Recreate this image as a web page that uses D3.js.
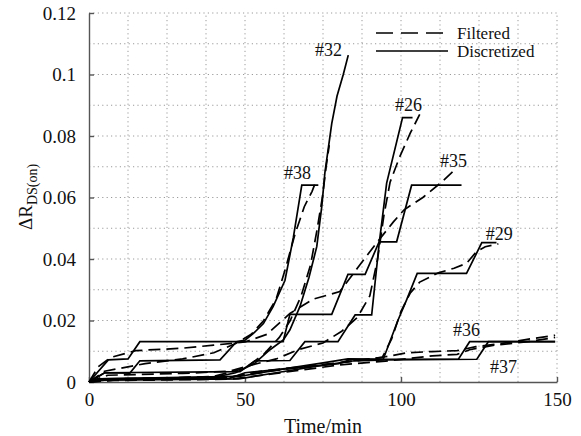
<!DOCTYPE html>
<html>
<head>
<meta charset="utf-8">
<script src="https://cdn.jsdelivr.net/npm/d3@7"></script>
<style>
  body { margin: 0; background: #fff; }
  svg { display: block; }
  svg text { font-family: "Liberation Serif", "DejaVu Serif", "Times New Roman", Times, serif !important; fill: #111; }
</style>
</head>
<body>
<svg id="chart"></svg>
<script>
// values: [time (min), delta R_DS(on)]
var disc26 = [[0,0],[5,0.003],[48.4,0.0034],[53.2,0.0069],[64.4,0.007],[69.2,0.0131],[79.8,0.0131],[85.3,0.0218],[90.6,0.0218],[93,0.045],[95.4,0.0647],[100.5,0.086],[103.7,0.086]];
var filt26 = [[0,0],[6,0.0022],[30,0.0028],[45,0.0035],[52,0.0055],[60,0.0075],[67,0.0105],[75,0.0127],[81,0.0165],[86,0.021],[90,0.028],[92.5,0.04],[94.5,0.054],[96.5,0.065],[99.5,0.073],[103,0.081],[106,0.087]];

var disc29 = [[0,0],[3,0.0008],[45,0.0012],[50,0.003],[62,0.0042],[80,0.006],[84,0.0074],[94.3,0.0074],[99,0.02],[101.8,0.0267],[105.2,0.0353],[121,0.0353],[125.9,0.0453],[130.6,0.0453]];
var filt29 = [[0,0],[8,0.0008],[45,0.0015],[55,0.0035],[70,0.0052],[85,0.0068],[94,0.008],[97,0.014],[100,0.023],[103,0.029],[106,0.0325],[112,0.0355],[117,0.037],[121,0.0386],[124.2,0.0424],[127,0.044],[131.2,0.0449]];

var disc32 = [[0,0],[4,0.001],[40,0.0015],[47,0.003],[53,0.006],[58,0.0105],[62.3,0.0137],[64.4,0.017],[67.6,0.0245],[70.5,0.034],[73,0.044],[74.6,0.057],[75.6,0.068],[77.8,0.084],[79.5,0.093],[81.5,0.1],[83.1,0.1063]];
var filt32 = [[0,0],[10,0.0008],[40,0.0018],[50,0.0045],[56,0.009],[61,0.0145],[64.5,0.02],[68,0.028],[71,0.038],[73,0.049],[74.8,0.06],[76,0.07],[77,0.077]];

var disc35 = [[0,0],[6.2,0.0072],[12.5,0.0075],[16.3,0.0131],[62.2,0.0131],[64.4,0.022],[77.8,0.022],[83,0.035],[88.5,0.035],[93,0.0456],[98.6,0.0456],[103.4,0.064],[119.4,0.064]];
var filt35 = [[0,0],[3,0.005],[7,0.008],[15,0.0102],[30,0.011],[40,0.012],[50,0.013],[57,0.0155],[64.4,0.0223],[72,0.027],[80.4,0.0294],[86,0.037],[92,0.045],[97.5,0.052],[101,0.056],[107,0.06],[113,0.065],[117.8,0.0696]];

var disc36 = [[0,0],[3,0.001],[48,0.0018],[62,0.0042],[75,0.0062],[83,0.0075],[94,0.0074],[118.4,0.0074],[122,0.0131],[149.4,0.0131]];
var filt36 = [[0,0],[6,0.001],[45,0.0016],[60,0.0038],[80,0.0062],[95,0.0082],[102,0.0095],[110,0.0099],[118,0.0102],[124,0.0115],[132,0.0125],[140,0.0138],[149.4,0.0152]];

var disc37 = [[0,0],[5,0.0006],[48,0.001],[60,0.003],[72,0.005],[85,0.0069],[95,0.0072],[124.3,0.0074],[128,0.0131],[149.4,0.0131]];
var filt37 = [[0,0],[8,0.0005],[45,0.0009],[60,0.0028],[80,0.0055],[95,0.0068],[110,0.0085],[118,0.009],[122,0.0105],[130,0.012],[140,0.013],[149.4,0.0145]];

var disc38 = [[0,0],[5,0.003],[13.1,0.0029],[16.3,0.0069],[42,0.0072],[47.3,0.0131],[50,0.0136],[52.7,0.0158],[55.9,0.019],[59,0.0245],[62.8,0.033],[65.5,0.047],[68.2,0.064],[73.5,0.064]];
var filt38 = [[0,0],[5,0.0035],[18,0.006],[30,0.0075],[40,0.0095],[47,0.0125],[52,0.0155],[56,0.02],[60,0.027],[63,0.037],[66,0.048],[69,0.057],[71.5,0.062],[73,0.066]];

var seriesNames = ["#26", "#29", "#32", "#35", "#36", "#37", "#38"];
var discretized = [disc26, disc29, disc32, disc35, disc36, disc37, disc38];
var filtered = [filt26, filt29, filt32, filt35, filt36, filt37, filt38];

var xTicks = [0, 50, 100, 150];
var yTicks = [0, 0.02, 0.04, 0.06, 0.08, 0.1, 0.12];
var yTickLabels = ["0", "0.02", "0.04", "0.06", "0.08", "0.1", "0.12"];
var legendLabels = ["Filtered", "Discretized"];

// where each series tag sits, in data units (layout only)
var tagAnchors = [[98.1,0.0881],[127.2,0.0462],[72.4,0.106],[112.5,0.0699],[116.7,0.015],[128.5,0.0029],[62.5,0.066]];

var W = 581, H = 436,
    margin = {left: 89, right: 24, top: 13, bottom: 54};

var serif = "'Liberation Serif', 'DejaVu Serif', serif";

var svg = d3.select("#chart").attr("width", W).attr("height", H);

var x = d3.scaleLinear().domain([0, 150]).range([margin.left, W - margin.right]);
var y = d3.scaleLinear().domain([0, 0.12]).range([H - margin.bottom, margin.top]);

/*
 *    G R I D
 */
var grid = svg.append("g").attr("class", "grid")
    .attr("stroke", "#9a9a9a")
    .attr("stroke-width", 1)
    .attr("stroke-dasharray", "1.2,3.2");

grid.selectAll(".vg")
  .data(d3.range(12.5, 150.1, 12.5))
  .enter().append("line")
    .attr("x1", function(d) { return x(d); })
    .attr("x2", function(d) { return x(d); })
    .attr("y1", y(0))
    .attr("y2", y(0.12));

grid.selectAll(".hg")
  .data(d3.range(0.01, 0.1201, 0.01))
  .enter().append("line")
    .attr("x1", x(0))
    .attr("x2", x(150))
    .attr("y1", function(d) { return y(d); })
    .attr("y2", function(d) { return y(d); });

/*
 *    A X E S
 */
var xAxis = d3.axisBottom(x)
    .tickValues(xTicks)
    .tickSizeInner(-5)
    .tickSizeOuter(0)
    .tickPadding(11)
    .tickFormat(d3.format("d"));

var yAxis = d3.axisLeft(y)
    .tickValues(yTicks)
    .tickSizeInner(-5)
    .tickSizeOuter(0)
    .tickPadding(13)
    .tickFormat(function(d, i) { return yTickLabels[i]; });

var gx = svg.append("g")
    .attr("transform", "translate(0," + y(0) + ")")
    .call(xAxis);

var gy = svg.append("g")
    .attr("transform", "translate(" + x(0) + ",0)")
    .call(yAxis);

[gx, gy].forEach(function(g) {
  g.attr("font-family", serif);
  g.select(".domain").attr("stroke", "#555").attr("stroke-width", 1.4);
  g.selectAll(".tick line").attr("stroke", "#555").attr("stroke-width", 1.4);
  g.selectAll(".tick text")
    .attr("font-family", serif)
    .attr("font-size", 19)
    .attr("fill", "#111");
});

// axis titles
svg.append("text")
    .attr("x", x(75))
    .attr("y", 433)
    .attr("text-anchor", "middle")
    .attr("font-family", serif)
    .style("font-size", "20px")
    .text("Time/min");

var ylab = svg.append("text")
    .attr("transform", "translate(32,230) rotate(-90)")
    .attr("font-family", serif)
    .style("font-size", "19px");
ylab.append("tspan").text("ΔR");
ylab.append("tspan")
    .attr("dy", 5)
    .style("font-size", "14px")
    .text("DS(on)");

/*
 *    L I N E S
 */
var line = d3.line()
    .x(function(d) { return x(d[0]); })
    .y(function(d) { return y(d[1]); });

var plot = svg.append("g").attr("fill", "none").attr("stroke", "#000");

plot.selectAll(".filtered")
  .data(filtered)
  .enter().append("path")
    .attr("class", "filtered")
    .attr("d", line)
    .attr("stroke-width", 1.7)
    .attr("stroke-dasharray", "12,6");

plot.selectAll(".discretized")
  .data(discretized)
  .enter().append("path")
    .attr("class", "discretized")
    .attr("d", line)
    .attr("stroke-width", 1.7);

// series tags
svg.selectAll(".tag")
  .data(seriesNames)
  .enter().append("text")
    .attr("class", "tag")
    .attr("x", function(d, i) { return x(tagAnchors[i][0]); })
    .attr("y", function(d, i) { return y(tagAnchors[i][1]); })
    .attr("font-family", serif)
    .style("font-size", "18px")
    .text(function(d) { return d; });

/*
 *    L E G E N D
 */
var legend = svg.append("g").attr("transform", "translate(376,33)");

legend.selectAll(".lg")
  .data(legendLabels)
  .enter().append("g")
    .attr("transform", function(d, i) { return "translate(0," + (i * 18) + ")"; })
    .each(function(d, i) {
      var g = d3.select(this);
      g.append("line")
        .attr("x1", 0).attr("x2", 72)
        .attr("stroke", "#000")
        .attr("stroke-width", 1.7)
        .attr("stroke-dasharray", i === 0 ? "17,8" : null);
      g.append("text")
        .attr("x", 81)
        .attr("y", 6)
        .attr("font-family", serif)
        .style("font-size", "17px")
        .text(d);
    });
</script>
</body>
</html>
